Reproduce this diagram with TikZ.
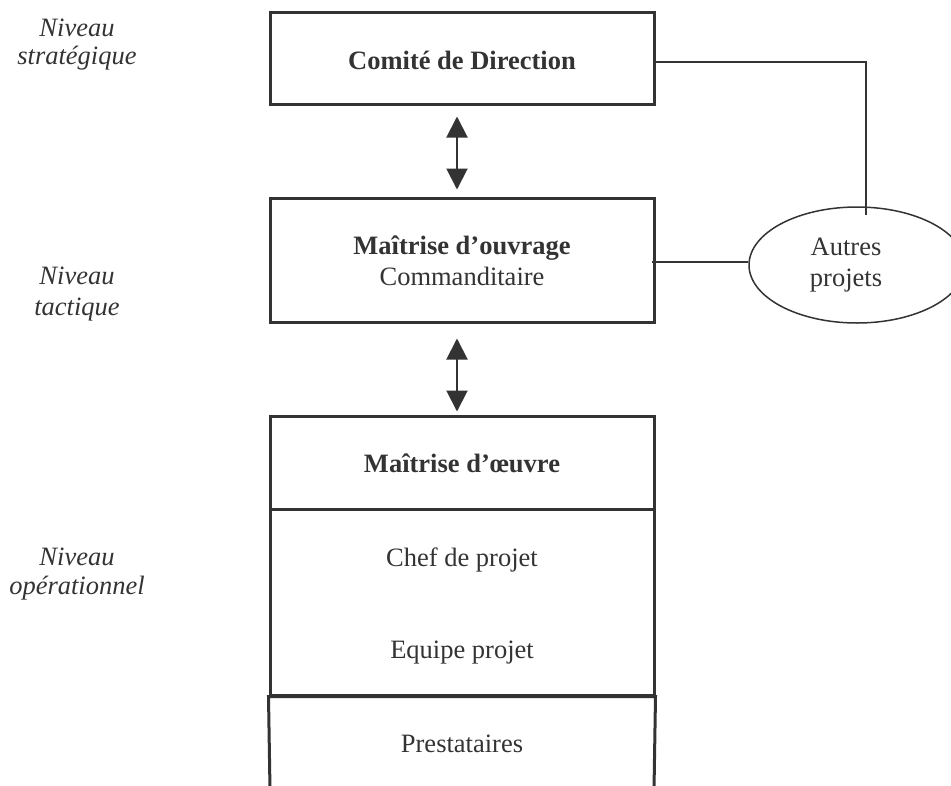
\documentclass[tikz,border=0pt]{standalone}
\usepackage{fontspec}
\setmainfont{Liberation Serif}
\usetikzlibrary{arrows.meta,shapes.geometric,calc}
\definecolor{ink}{HTML}{333333}
\begin{document}
\begin{tikzpicture}[x=1pt,y=-1pt,
  box/.style={draw=ink,line width=3pt,inner sep=0pt,minimum width=384pt},
  txt/.style={anchor=base,inner sep=0pt,text=ink,font=\fontsize{26.5}{32}\selectfont},
  bold/.style={txt,font=\fontsize{26.5}{32}\selectfont\bfseries},
  lvl/.style={txt,font=\fontsize{26.5}{32}\selectfont\itshape},
  link/.style={draw=ink,line width=1.7pt},
  dblarrow/.style={draw=ink,line width=2pt,
    {Triangle[width=21pt,length=21pt]}-{Triangle[width=21pt,length=21pt]}}
]
\useasboundingbox (0,0) rectangle (951,785);

% hierarchy boxes
\node[box,minimum height=92pt]  (cd)  at (462,58)    {};
\node[box,minimum height=124pt] (mo)  at (462,260)   {};
\node[box,minimum height=93pt]  (moe) at (462,462.5) {};
\node[box,minimum height=186pt] (eq)  at (462,602)   {};

% open-ended bottom section (Prestataires)
\coordinate (pl) at (270,790);
\coordinate (pr) at (654,790);
\draw[ink,line width=3pt] (pl) -- (eq.south west) -- (eq.south east) -- (pr);

% other projects
\node[draw=ink,line width=1.5pt,ellipse,minimum width=216pt,minimum height=116pt,inner sep=0pt] (ap) at (857,265) {};

% links to other projects
\coordinate (apin) at (866,215);
\coordinate (apl) at ($(ap.west)+(0,-3)$);
\draw[link] ($(cd.east)+(0,4)$) -| (apin);
\draw[link] ($(mo.east)+(-4,2)$) -- (apl);

% two-way arrows between levels
\draw[dblarrow] ($(cd.south)+(-5,11)$) -- ($(mo.north)+(-5,-7)$);
\draw[dblarrow] ($(mo.south)+(-5,15)$) -- ($(moe.north)+(-5,-3)$);

% box texts
\node[bold] (tcd)   at (462,69)  {Comité de Direction};
\node[bold] (tmo1)  at (462,254) {Maîtrise d’ouvrage};
\node[txt]  (tmo2)  at (462,285) {Commanditaire};
\node[bold] (tmoe)  at (462,472) {Maîtrise d’œuvre};
\node[txt]  (tchef) at (462,566) {Chef de projet};
\node[txt]  (tequ)  at (462,658) {Equipe projet};
\node[txt]  (tpre)  at (462,752) {Prestataires};
\node[txt]  (tap1)  at (846,255) {Autres};
\node[txt]  (tap2)  at (846,286) {projets};

% level labels
\node[lvl] (s1) at (77,36)  {Niveau};
\node[lvl] (s2) at (77,64)  {stratégique};
\node[lvl] (t1) at (77,284) {Niveau};
\node[lvl] (t2) at (77,315) {tactique};
\node[lvl] (o1) at (77,565) {Niveau};
\node[lvl] (o2) at (77,594) {opérationnel};
\end{tikzpicture}
\end{document}
